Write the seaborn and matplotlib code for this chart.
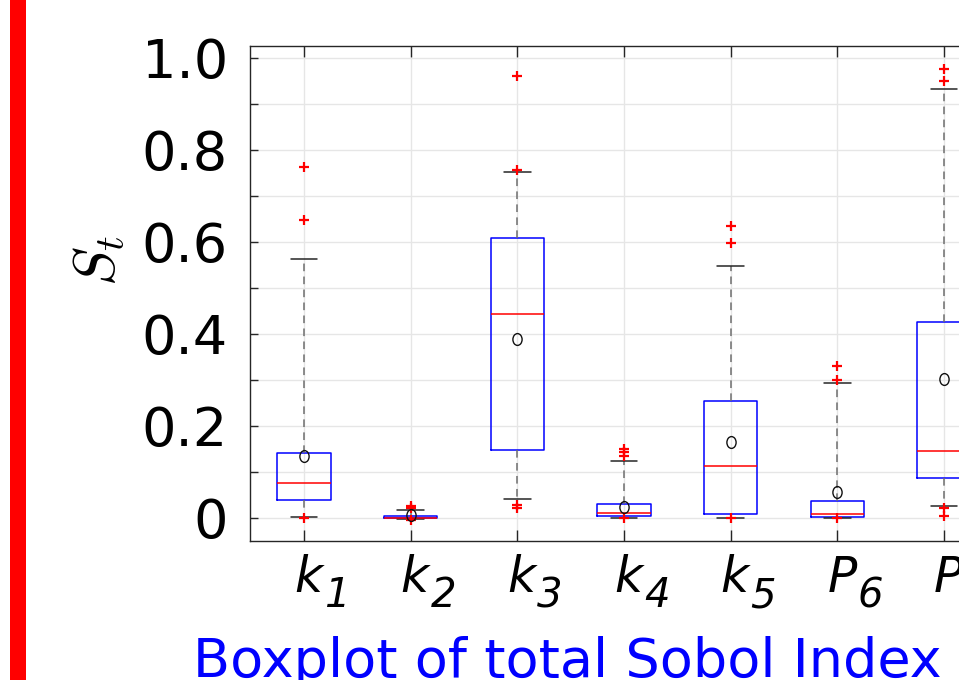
import numpy as np
import matplotlib
matplotlib.use("Agg")
import matplotlib.pyplot as plt
import seaborn as sns
from matplotlib.markers import MarkerStyle
from matplotlib.transforms import Affine2D, ScaledTranslation
from matplotlib.patches import Rectangle

# ---- data ----
categories = ["k1", "k2", "k3", "k4", "k5", "P6", "P7"]
label_letters = ["k", "k", "k", "k", "k", "P", "P"]
label_subscripts = ["1", "2", "3", "4", "5", "6", "7"]
q1 = [0.040, -0.001, 0.147, 0.004, 0.009, 0.003, 0.087]
med = [0.075, 0.000, 0.443, 0.0115, 0.112, 0.009, 0.145]
q3 = [0.141, 0.005, 0.609, 0.030, 0.254, 0.037, 0.426]
whis_lo = [0.002, -0.002, 0.042, 0.000, 0.000, 0.000, 0.025]
whis_hi = [0.564, 0.017, 0.752, 0.123, 0.548, 0.294, 0.933]
means = [0.135, 0.006, 0.389, 0.024, 0.165, 0.0565, 0.303]
fliers = [[0.764, 0.648, 0.000],
          [0.027, 0.022, -0.004],
          [0.961, 0.757, 0.029, 0.022],
          [0.150, 0.143, 0.134, -0.001],
          [0.635, 0.598, -0.001],
          [0.331, 0.301, -0.001],
          [0.977, 0.950, 0.022, 0.005]]
y_ticks = [0.0, 0.1, 0.2, 0.3, 0.4, 0.5, 0.6, 0.7, 0.8, 0.9, 1.0]
y_tick_labels = ["0", "", "0.2", "", "0.4", "", "0.6", "", "0.8", "", "1.0"]
y_label = r"$S_t$"
x_label = "Boxplot of total Sobol Index"

# ---- style ----
sns.set_theme(style="whitegrid")
plt.rcParams["font.family"] = ["DejaVu Sans"]
plt.rcParams["mathtext.fontset"] = "dejavusans"

W, H = 959, 680
fig = plt.figure(figsize=(W / 100, H / 100), dpi=100)
fig.patch.set_facecolor("white")
ax = fig.add_axes([250 / W, (H - 541) / H, 748 / W, 495 / H])
ax.set_facecolor("white")

stats = []
for i, c in enumerate(categories):
    stats.append(dict(label=c, q1=q1[i], med=med[i], q3=q3[i],
                      whislo=whis_lo[i], whishi=whis_hi[i],
                      mean=means[i], fliers=np.array(fliers[i])))

positions = np.arange(len(categories))
mean_marker = MarkerStyle("o", transform=Affine2D().scale(0.78, 1.0))
ax.bxp(stats, positions=positions, widths=0.5, capwidths=0.25,
       showmeans=True, meanline=False, showfliers=True,
       boxprops=dict(color="#0000FF", linewidth=1.1),
       medianprops=dict(color="#FF0000", linewidth=1.1),
       whiskerprops=dict(color="#6e6e6e", linewidth=1.1, linestyle=(0, (5, 3.5))),
       capprops=dict(color="#262626", linewidth=1.1),
       flierprops=dict(marker="+", markeredgecolor="#FF0000", markersize=7,
                       markeredgewidth=1.6, linestyle="none"),
       meanprops=dict(marker=mean_marker, markerfacecolor="none",
                      markeredgecolor="#111111", markersize=8.5, markeredgewidth=1.0,
                      linestyle="none"))

ax.set_xlim(-0.506, len(categories) - 1 + 0.506)
ax.set_ylim(-0.05, 1.026)
ax.set_axisbelow(True)
ax.grid(True, color="#e6e6e6", linewidth=1.0)

ax.set_yticks(y_ticks)
ax.set_yticklabels(y_tick_labels)
ax.set_xticks(positions)
ax.set_xticklabels([""] * len(positions))

for sp in ax.spines.values():
    sp.set_color("#262626")
    sp.set_linewidth(1.0)
    sp.set_visible(True)

ax.tick_params(axis="y", direction="in", length=6, width=1, color="#262626",
               left=True, right=False, labelsize=39, pad=16, labelcolor="black")
ax.tick_params(axis="x", direction="in", length=8, width=1, color="#262626",
               bottom=True, top=True, labelsize=35, pad=10, labelcolor="black")

# x tick labels: italic letter with a large italic subscript
xt = ax.get_xaxis_transform()
for i, p in enumerate(positions):
    t_main = xt + ScaledTranslation(-10 / 100, -51 / 100, fig.dpi_scale_trans)
    t_sub = xt + ScaledTranslation(20 / 100, -66 / 100, fig.dpi_scale_trans)
    ax.text(p, 0, label_letters[i], transform=t_main, ha="left", va="baseline",
            fontsize=35, fontstyle="italic", color="black", clip_on=False)
    ax.text(p, 0, label_subscripts[i], transform=t_sub, ha="left", va="baseline",
            fontsize=29, fontstyle="italic", color="black", clip_on=False)

# y label
fig.text(99 / W, 1 - 260 / H, y_label, rotation=90, ha="center", va="center",
         fontsize=42, math_fontfamily="cm", color="black")
# x label (title-like, blue)
fig.text(193 / W, (H - 676.5) / H, x_label, ha="left", va="baseline",
         fontsize=39, color="#0000FF")

# red bar at the left edge
fig.patches.append(Rectangle((10 / W, 0), 16 / W, 1, transform=fig.transFigure,
                             facecolor="#FF0000", edgecolor="none", figure=fig))

fig.savefig("out.png", dpi=100)
